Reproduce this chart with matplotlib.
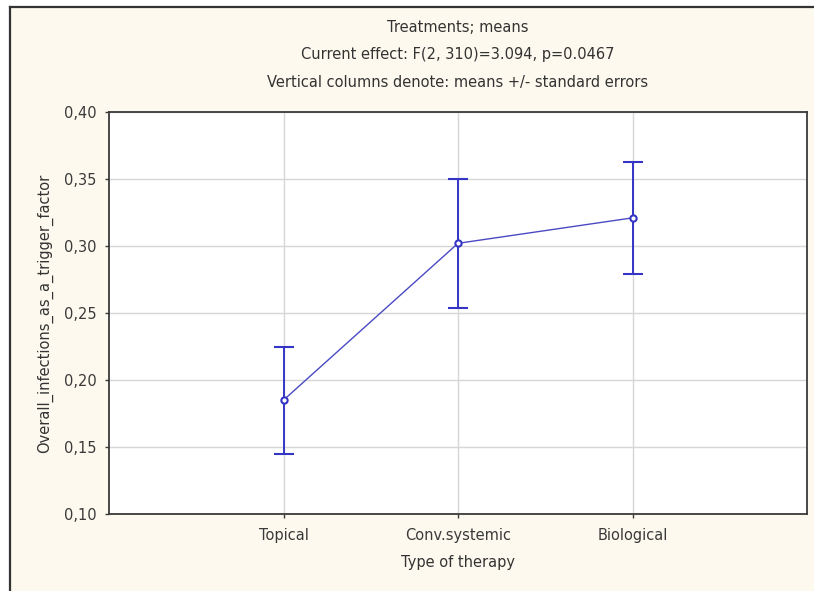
import matplotlib
matplotlib.use("Agg")
import matplotlib.pyplot as plt
from matplotlib.patches import Rectangle
from matplotlib.lines import Line2D
from matplotlib.ticker import FuncFormatter

plt.rcParams['font.family'] = ['DejaVu Sans']

therapies = ['Topical', 'Conv.systemic', 'Biological']
means = [0.185, 0.302, 0.321]
std_err = [0.040, 0.048, 0.042]
title_lines = ['Treatments; means',
               'Current effect: F(2, 310)=3.094, p=0.0467',
               'Vertical columns denote: means +/- standard errors']

W, H = 814, 591
fig = plt.figure(figsize=(W / 100, H / 100), dpi=100)
fig.patch.set_facecolor('white')

# cream panel with dark left/top edge, kept behind the axes
x0, y0 = 9.5 / W, 1 - 6.5 / H
fig.patches.append(Rectangle((x0, 0), 1 - x0, y0, transform=fig.transFigure,
                             facecolor='#fdf9ee', edgecolor='none', zorder=-5))
fig.lines.append(Line2D([x0, x0], [0, y0], transform=fig.transFigure, color='#333333',
                        lw=1.6, zorder=-4))
fig.lines.append(Line2D([x0, 1], [y0, y0], transform=fig.transFigure, color='#333333',
                        lw=1.6, zorder=-4))

left, right, top, bottom = 109, 807, 112, 514
ax = fig.add_axes([left / W, 1 - bottom / H, (right - left) / W, (bottom - top) / H])
ax.set_facecolor('white')

xs = [1, 2, 3]
blue = '#3434c6'
ax.errorbar(xs, means, yerr=std_err, color='#4a4ac4', lw=1.0, elinewidth=1.4,
            ecolor=blue, capsize=7, capthick=1.4, marker='o', markersize=4.5,
            markerfacecolor='white', markeredgecolor=blue, markeredgewidth=1.5, zorder=3)

ax.set_xlim(0, 4)
ax.set_ylim(0.10, 0.40)
ax.set_xticks(xs)
ax.set_xticklabels(therapies)
ax.set_yticks([0.10, 0.15, 0.20, 0.25, 0.30, 0.35, 0.40])
ax.yaxis.set_major_formatter(FuncFormatter(lambda v, p: f'{v:.2f}'.replace('.', ',')))
ax.grid(True, color='#d6d6d6', lw=1.0, zorder=0)
ax.set_axisbelow(True)
for s in ax.spines.values():
    s.set_color('#3a3a3a')
    s.set_linewidth(1.3)
ax.tick_params(axis='both', colors='#3a3a3a', labelcolor='#3a3a3a', labelsize=10.5,
               length=3, width=1, direction='out', pad=6)
ax.tick_params(axis='x', pad=7)

ax.set_xlabel('Type of therapy', fontsize=10.5, color='#333333', labelpad=9)
ax.set_ylabel('Overall_infections_as_a_trigger_factor', fontsize=10.5, color='#333333',
              labelpad=8)

cx = (left + right) / 2 / W
for y, t in zip([27, 55, 83], title_lines):
    fig.text(cx, 1 - y / H, t, ha='center', va='center', fontsize=10.5, color='#333333')

fig.savefig('out.png', dpi=100, facecolor=fig.get_facecolor())
